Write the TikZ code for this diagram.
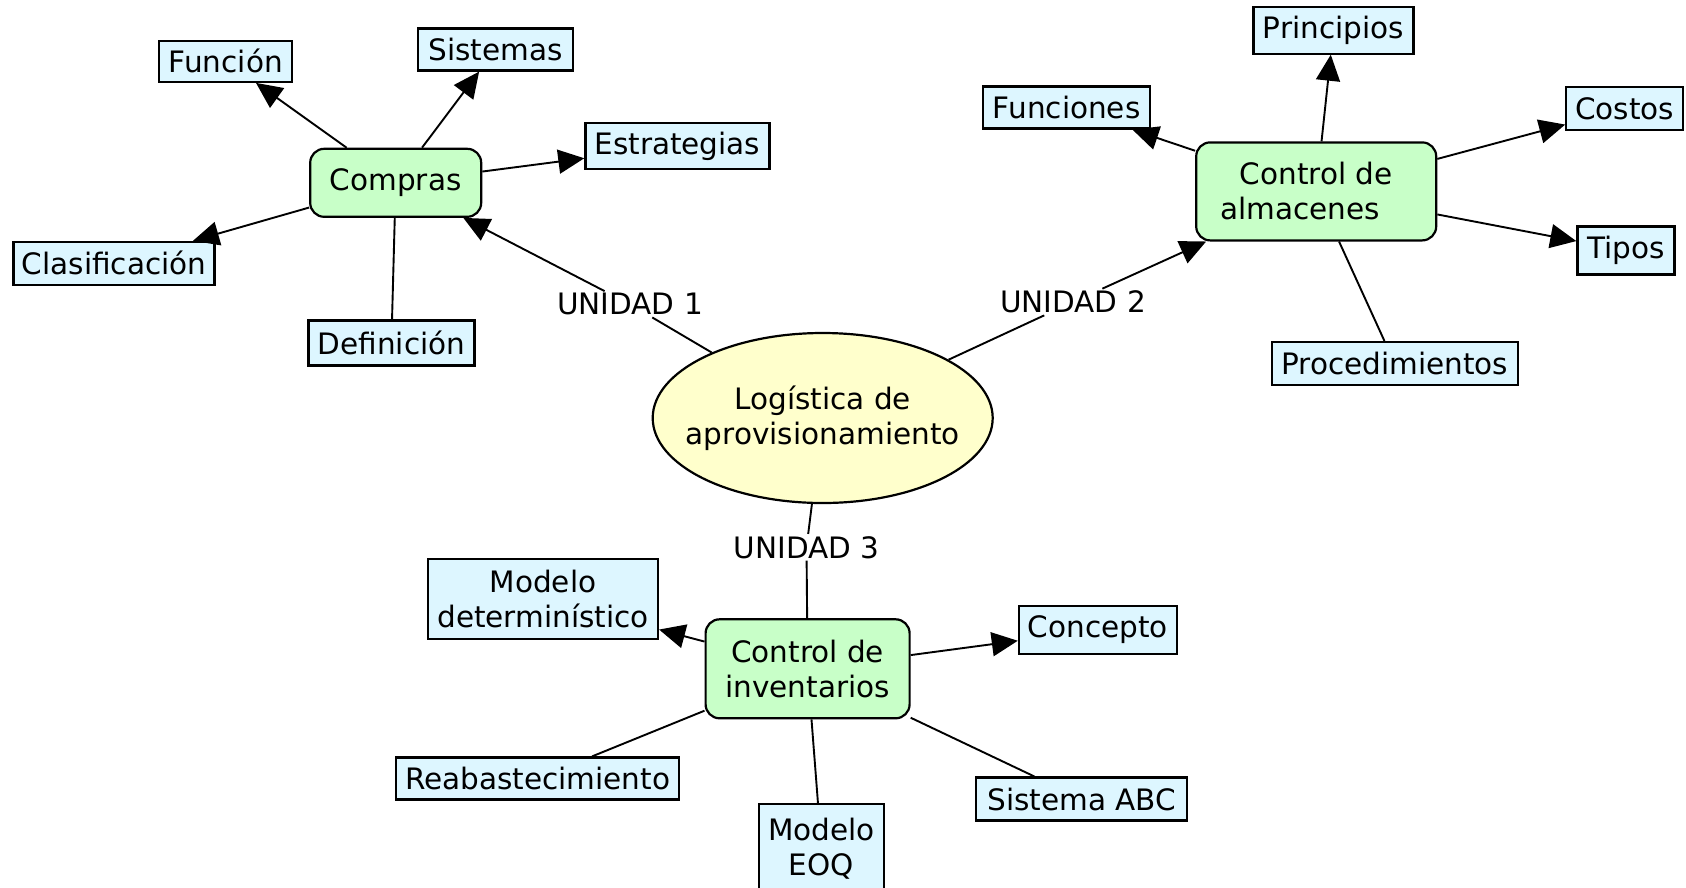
\documentclass[tikz,border=0pt]{standalone}
\usepackage{fontspec}
\setmainfont{DejaVu Sans}
\usetikzlibrary{arrows.meta,shapes.geometric}
\definecolor{cyanbox}{RGB}{221,246,255}
\definecolor{greenbox}{RGB}{200,255,200}
\definecolor{yellowell}{RGB}{255,255,204}
\begin{document}
\begin{tikzpicture}[x=1pt,y=-1pt,
  txt/.style={font=\fontsize{29.5}{35}\selectfont, align=center},
  leaf/.style={txt, draw=black, line width=2.2pt, fill=cyanbox, inner sep=0pt},
  hub/.style={txt, draw=black, line width=2.2pt, fill=greenbox, rounded corners=14pt, inner sep=0pt},
  root/.style={txt, ellipse, draw=black, line width=2.2pt, fill=yellowell, inner xsep=-20pt, inner ysep=0pt},
  lab/.style={txt, fill=white, inner sep=2pt},
  ln/.style={draw=black, line width=1.9pt},
  arr/.style={ln, -{Triangle[length=26pt,width=24pt]}}]
\useasboundingbox (0,0) rectangle (1686,887);
\fill[white] (0,0) rectangle (1686,887);

% root
\node[root, minimum width=340pt, minimum height=170pt] (log) at (822.7,418) {Logística de\\aprovisionamiento};

% hubs
\node[hub, minimum width=171pt, minimum height=68pt] (com) at (395.7,182.8) {Compras};
\node[hub, minimum width=240pt, minimum height=98pt] (alm) at (1316.2,191.4) {Control de\\almacenes\hspace*{32pt}};
\node[hub, minimum width=204pt, minimum height=99pt] (inv) at (807.6,668.8) {Control de\\inventarios};

% labels
\node[lab] (u1) at (630,304.3) {UNIDAD 1};
\node[lab] (u2) at (1073,302) {UNIDAD 2};
\node[lab] (u3) at (806.5,547.3) {UNIDAD 3};

% leaves of Compras
\node[leaf, minimum width=133pt, minimum height=41pt] (fun) at (225.8,61.3) {Función};
\node[leaf, minimum width=155pt, minimum height=42pt] (sis) at (495.7,49.5) {Sistemas};
\node[leaf, minimum width=184pt, minimum height=46pt] (est) at (677.4,146.2) {Estrategias};
\node[leaf, minimum width=201pt, minimum height=43pt] (cla) at (114,263.4) {Clasificación};
\node[leaf, minimum width=166pt, minimum height=45pt] (def) at (391.4,343) {Definición};

% leaves of almacenes
\node[leaf, minimum width=160pt, minimum height=47pt] (pri) at (1333.4,30.1) {Principios};
\node[leaf, minimum width=167pt, minimum height=42pt] (fus) at (1066.7,107.5) {Funciones};
\node[leaf, minimum width=117pt, minimum height=43pt] (cos) at (1624.8,108.6) {Costos};
\node[leaf, minimum width=97pt, minimum height=48pt] (tip) at (1625.9,250.5) {Tipos};
\node[leaf, minimum width=246pt, minimum height=43pt] (pro) at (1394.7,363.5) {Procedimientos};

% leaves of inventarios
\node[leaf, minimum width=230pt, minimum height=80pt] (mdet) at (543,599) {Modelo\\determinístico};
\node[leaf, minimum width=158pt, minimum height=48pt] (con) at (1097.9,630.1) {Concepto};
\node[leaf, minimum width=283pt, minimum height=42pt] (rea) at (537.7,778.5) {Reabastecimiento};
\node[leaf, minimum width=125pt, minimum height=90pt] (eoq) at (821.5,849) {Modelo\\EOQ};
\node[leaf, minimum width=211pt, minimum height=43pt] (abc) at (1081.8,799) {Sistema ABC};

% root connectors
\draw[ln] (log) -- (u1); \draw[arr] (u1) -- (com);
\draw[ln] (log) -- (u2); \draw[arr] (u2) -- (alm);
\draw[ln] (log) -- (u3); \draw[ln] (u3) -- (inv);

% Compras
\draw[arr] (com) -- (fun);
\draw[arr] (com) -- (sis);
\draw[arr] (com) -- (est);
\draw[arr] (com) -- (cla);
\draw[ln] (com) -- (def);

% almacenes
\draw[arr] (alm) -- (fus);
\draw[arr] (alm) -- (pri);
\draw[arr] (alm) -- (cos);
\draw[arr] (alm) -- (tip);
\draw[ln] (alm) -- (pro);

% inventarios
\draw[arr] (inv) -- (mdet);
\draw[arr] (inv) -- (con);
\draw[ln] (inv) -- (rea);
\draw[ln] (inv) -- (eoq);
\draw[ln] (inv) -- (abc);
\end{tikzpicture}
\end{document}
